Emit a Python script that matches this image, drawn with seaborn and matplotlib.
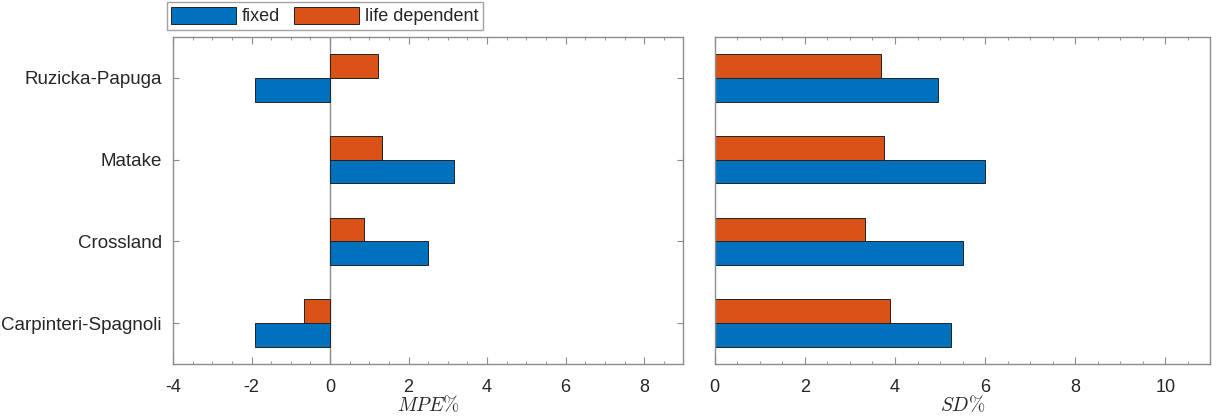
import numpy as np
import pandas as pd
import matplotlib
matplotlib.use("Agg")
import matplotlib.pyplot as plt
import seaborn as sns
from matplotlib.patches import Patch
from matplotlib.ticker import MultipleLocator

models = ['Ruzicka-Papuga', 'Matake', 'Crossland', 'Carpinteri-Spagnoli']
series = ['fixed', 'life dependent']
mpe_fixed = [-1.9, 3.15, 2.5, -1.9]
mpe_life = [1.23, 1.32, 0.86, -0.66]
sd_fixed = [4.95, 6.0, 5.5, 5.25]
sd_life = [3.68, 3.76, 3.33, 3.88]

colors = {'fixed': '#0072BD', 'life dependent': '#D95319'}


def main():
    sns.set_style("white")
    plt.rcParams['font.family'] = ['Liberation Sans', 'DejaVu Sans']
    plt.rcParams['mathtext.fontset'] = 'cm'
    plt.rcParams['axes.unicode_minus'] = False

    df = pd.DataFrame({
        'model': models * 2,
        'series': ['fixed'] * 4 + ['life dependent'] * 4,
        'mpe': mpe_fixed + mpe_life,
        'sd': sd_fixed + sd_life,
    })

    fig = plt.figure(figsize=(12.27, 4.17), dpi=100)
    ax1 = fig.add_axes([0.141, 0.127, 0.416, 0.784])
    ax2 = fig.add_axes([0.5825, 0.127, 0.404, 0.784])

    # orange on top of blue inside each group
    hue_order = ['life dependent', 'fixed']
    for ax, col in [(ax1, 'mpe'), (ax2, 'sd')]:
        sns.barplot(df, x=col, y='model', hue='series', order=models,
                    hue_order=hue_order, palette=colors, saturation=1,
                    orient='h', width=0.58, edgecolor='#222222',
                    linewidth=0.7, legend=False, ax=ax)
        ax.set_ylim(3.5, -0.5)
        ax.set_ylabel('')
        for s in ax.spines.values():
            s.set_color('#8c8c8c')
            s.set_linewidth(1.0)
        ax.xaxis.set_minor_locator(MultipleLocator(0.5))
        ax.tick_params(axis='x', which='both', direction='in', top=True,
                       bottom=True, colors='#8c8c8c', labelcolor='#262626',
                       labelsize=13, pad=11)
        ax.tick_params(axis='x', which='major', length=5)
        ax.tick_params(axis='x', which='minor', length=2.5)

    ax1.axvline(0, color='#8c8c8c', lw=1.0, zorder=0.5)
    ax1.set_xlim(-4, 9)
    ax1.set_xticks([-4, -2, 0, 2, 4, 6, 8])
    ax1.tick_params(axis='y', direction='in', left=True, right=True,
                    length=4, colors='#8c8c8c', labelcolor='#262626',
                    labelsize=13.5, pad=8)
    ax1.set_xlabel(r'$MPE\%$', fontsize=14, labelpad=-1)

    ax2.set_xlim(0, 11)
    ax2.set_xticks([0, 2, 4, 6, 8, 10])
    ax2.set_yticks([])
    ax2.set_xlabel(r'$SD\%$', fontsize=14, labelpad=-1)

    handles = [Patch(facecolor=colors[s], edgecolor='#222222', linewidth=0.7)
               for s in series]
    leg = fig.legend(handles, series, loc='upper left',
                     bbox_to_anchor=(0.136, 0.995), ncol=2, frameon=True,
                     fancybox=False, edgecolor='#8c8c8c', fontsize=13,
                     handlelength=3.6, handleheight=1.1, handletextpad=0.3,
                     columnspacing=0.8, borderpad=0.25, borderaxespad=0)
    leg.get_frame().set_linewidth(1.0)

    plt.savefig("out.png", dpi=100)
    plt.close()


if __name__ == "__main__":
    main()
